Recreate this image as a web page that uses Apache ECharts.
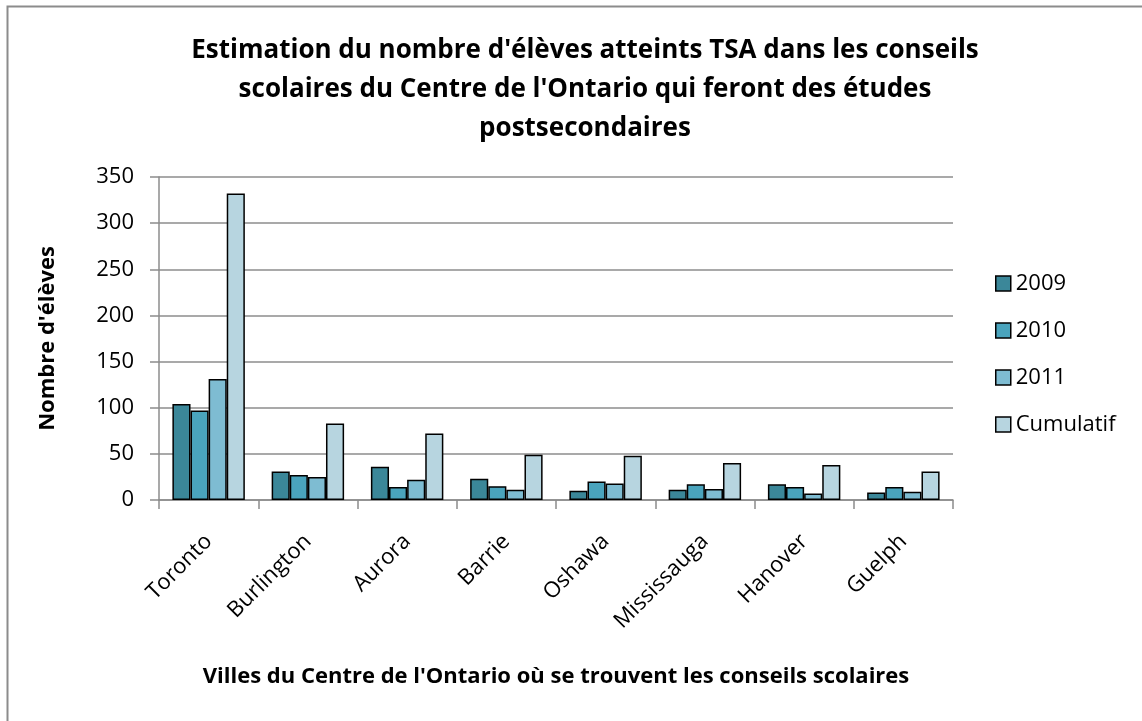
<!DOCTYPE html>
<html>
<head>
<meta charset="utf-8">
<script src="https://cdn.jsdelivr.net/npm/echarts@6/dist/echarts.min.js"></script>
<style>
  html, body { margin: 0; padding: 0; background: #fff; }
  #chart { width: 1142px; height: 721px; }
</style>
</head>
<body>
<div id="chart"></div>
<script>
var villes = ['Toronto', 'Burlington', 'Aurora', 'Barrie', 'Oshawa', 'Mississauga', 'Hanover', 'Guelph'];
var annee2009 = [104, 31, 36, 23, 10, 11, 17, 8];
var annee2010 = [97, 27, 14, 15, 20, 17, 14, 14];
var annee2011 = [131, 25, 22, 11, 18, 12, 7, 9];
var cumulatif = [332, 83, 72, 49, 48, 40, 38, 31];

var police = '"Open Sans", "Noto Sans", sans-serif';
var gris = '#8c8c8c';

var chart = echarts.init(document.getElementById('chart'), null, { renderer: 'canvas' });

function serie(nom, couleur, valeurs) {
  return {
    name: nom,
    type: 'bar',
    barGap: '0%',
    barCategoryGap: '27%',
    itemStyle: {
      color: couleur,
      borderColor: '#000',
      borderWidth: 1.5
    },
    data: valeurs
  };
}

var option = {
  backgroundColor: '#fff',
  animation: false,
  textStyle: { fontFamily: police },
  title: {
    text: "Estimation du nombre d'élèves atteints TSA dans les conseils\nscolaires du Centre de l'Ontario qui feront des études\npostsecondaires",
    left: 580,
    top: 26,
    textAlign: 'center',
    textStyle: {
      fontFamily: police,
      fontSize: 26,
      fontWeight: 'bold',
      color: '#000',
      lineHeight: 39
    }
  },
  legend: {
    orient: 'vertical',
    left: 995,
    top: 268,
    padding: 0,
    itemWidth: 15,
    itemHeight: 15,
    itemGap: 16,
    icon: 'rect',
    itemStyle: { borderColor: '#000', borderWidth: 1.5 },
    textStyle: { fontFamily: police, fontSize: 22, lineHeight: 31, color: '#000', padding: [0, 0, 0, 0] },
    data: ['2009', '2010', '2011', 'Cumulatif']
  },
  grid: {
    left: 159,
    right: 189,
    top: 177,
    bottom: 221
  },
  xAxis: {
    type: 'category',
    data: villes,
    name: "Villes du Centre de l'Ontario où se trouvent les conseils scolaires",
    nameLocation: 'middle',
    nameGap: 166,
    nameTextStyle: { fontFamily: police, fontSize: 22, fontWeight: 'bold', color: '#000' },
    axisLine: { lineStyle: { color: gris, width: 1.5 } },
    axisTick: { show: true, length: 9, lineStyle: { color: gris, width: 1.5 } },
    axisLabel: {
      rotate: 45,
      margin: 38,
      fontFamily: police,
      fontSize: 22,
      color: '#000'
    }
  },
  yAxis: {
    type: 'value',
    min: 0,
    max: 350,
    interval: 50,
    name: "Nombre d'élèves",
    nameLocation: 'middle',
    nameGap: 100,
    nameTextStyle: { fontFamily: police, fontSize: 22, fontWeight: 'bold', color: '#000' },
    axisLine: { show: true, lineStyle: { color: gris, width: 1.5 } },
    axisTick: { show: true, length: 9, lineStyle: { color: gris, width: 1.5 } },
    axisLabel: { margin: 25, fontFamily: police, fontSize: 22, color: '#000' },
    splitLine: { lineStyle: { color: gris, width: 1.5 } }
  },
  graphic: [
    {
      type: 'rect',
      shape: { x: 7.5, y: 6.5, width: 1300, height: 900 },
      style: { fill: null, stroke: '#8c8c8c', lineWidth: 2 },
      silent: true
    }
  ],
  series: [
    serie('2009', '#3b8799', annee2009),
    serie('2010', '#4aa4bd', annee2010),
    serie('2011', '#7ebcd2', annee2011),
    serie('Cumulatif', '#b7d5e0', cumulatif)
  ]
};

chart.setOption(option);
</script>
</body>
</html>
